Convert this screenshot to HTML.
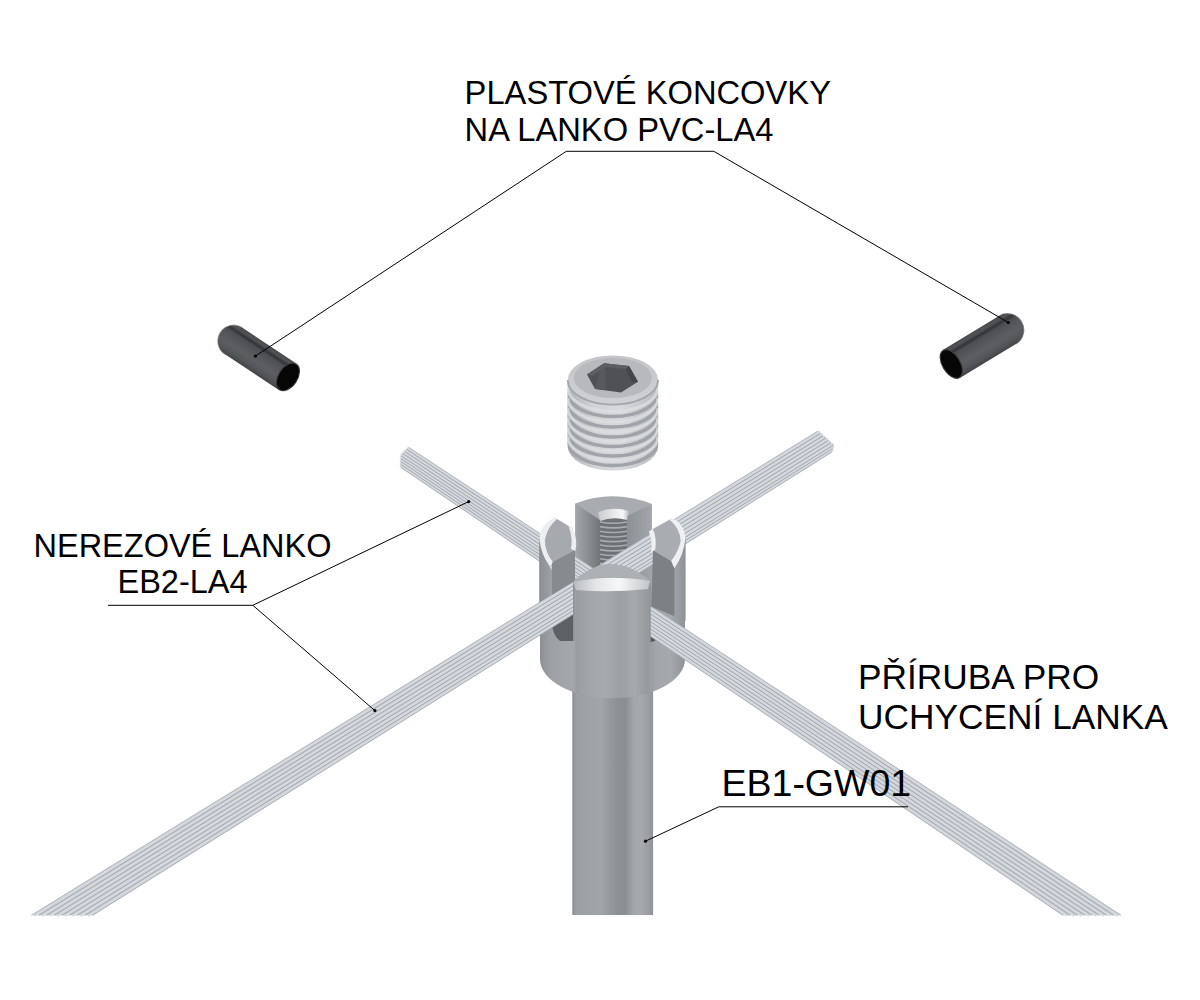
<!DOCTYPE html>
<html><head><meta charset="utf-8"><style>
html,body{margin:0;padding:0;background:#fff;}
body{width:1200px;height:1000px;overflow:hidden;position:relative;}
svg{position:absolute;left:0;top:0;}
text{font-family:"Liberation Sans",sans-serif;fill:#000;}
</style></head><body>
<svg width="1200" height="1000" viewBox="0 0 1200 1000">
<defs>
<linearGradient id="postg" gradientUnits="userSpaceOnUse" x1="572.3" x2="653.1" y1="0" y2="0">
<stop offset="0" stop-color="#8a8e94"/><stop offset="0.05" stop-color="#9ca0a5"/>
<stop offset="0.3" stop-color="#a0a4a9"/><stop offset="0.36" stop-color="#a2a6ab"/>
<stop offset="0.45" stop-color="#979ba0"/><stop offset="0.55" stop-color="#8d9196"/>
<stop offset="0.66" stop-color="#8b8f94"/><stop offset="0.76" stop-color="#a3a7ac"/>
<stop offset="0.85" stop-color="#a6aaaf"/><stop offset="0.93" stop-color="#9ca0a5"/>
<stop offset="1" stop-color="#8f9398"/></linearGradient>
<linearGradient id="flg" gradientUnits="userSpaceOnUse" x1="540" x2="685" y1="0" y2="0">
<stop offset="0" stop-color="#8c9095"/><stop offset="0.07" stop-color="#9ca0a5"/>
<stop offset="0.2" stop-color="#a4a8ad"/><stop offset="0.235" stop-color="#a2a6ab"/>
<stop offset="0.25" stop-color="#999da2"/><stop offset="0.33" stop-color="#a1a5aa"/>
<stop offset="0.45" stop-color="#a7abb0"/><stop offset="0.55" stop-color="#9ca0a5"/>
<stop offset="0.65" stop-color="#a6aaaf"/><stop offset="0.74" stop-color="#969a9f"/>
<stop offset="0.8" stop-color="#a2a6ab"/><stop offset="0.9" stop-color="#a5a9ae"/>
<stop offset="1" stop-color="#8f9398"/></linearGradient>
<linearGradient id="ssg" x1="0" x2="1" y1="0" y2="0">
<stop offset="0" stop-color="#aeb1b5"/><stop offset="0.3" stop-color="#d2d4d7"/>
<stop offset="0.6" stop-color="#d6d8db"/><stop offset="1" stop-color="#b9bcc0"/>
</linearGradient>
<linearGradient id="btl" x1="0" x2="1" y1="0" y2="0"><stop offset="0" stop-color="#a3a6aa"/><stop offset="1" stop-color="#737679"/></linearGradient>
<linearGradient id="btr" x1="0" x2="1" y1="0" y2="0"><stop offset="0" stop-color="#8d9094"/><stop offset="1" stop-color="#a2a5a9"/></linearGradient>
<linearGradient id="ftg" x1="0" x2="1" y1="0" y2="0">
<stop offset="0" stop-color="#8f9398"/><stop offset="0.2" stop-color="#a2a6ab"/>
<stop offset="0.5" stop-color="#9ca0a5"/><stop offset="0.7" stop-color="#a5a9ae"/>
<stop offset="1" stop-color="#90949a"/></linearGradient>
<linearGradient id="bandg" x1="0" x2="1" y1="0" y2="0">
<stop offset="0" stop-color="#b9bcc0"/><stop offset="0.3" stop-color="#e4e6e8"/>
<stop offset="0.6" stop-color="#f6f7f8"/><stop offset="1" stop-color="#c2c5c8"/></linearGradient>
<linearGradient id="sstop" x1="0" x2="0" y1="0" y2="1"><stop offset="0" stop-color="#c3c5c8"/><stop offset="1" stop-color="#cfd1d4"/></linearGradient>
<linearGradient id="hcg" x1="0" x2="1" y1="0" y2="0"><stop offset="0" stop-color="#c9cbce"/><stop offset="0.5" stop-color="#e6e8ea"/><stop offset="0.8" stop-color="#f7f8f9"/><stop offset="1" stop-color="#b5b8bb"/></linearGradient>
<clipPath id="ssclip"><path d="M567.7,380 L658.1,380 L658.1,446 A45.2,24.6 0 0 1 567.7,446 Z"/></clipPath>
</defs>
<rect width="1200" height="1000" fill="#fff"/>

<rect x="572.3" y="660" width="80.8" height="255" fill="url(#postg)"/>
<path d="M540,545 L540,659 A72.5,39.3 0 0 0 685,659 L685,545 Z" fill="url(#flg)"/>
<path d="M552,600 L573,600 L573,641 L560,641 Q552,635 552,622 Z" fill="#5d6064"/>
<path d="M648,605 L660,612 L660,635 Q657,642 650,642 L648,642 Z" fill="#55585c"/>
<path d="M575.3,503.5 Q613,489 651.8,504 L651.8,600 L575.3,600 Z" fill="#a8abaf"/>
<polygon points="575.3,503.5 600,520 600,600 575.3,600" fill="url(#btl)"/>
<polygon points="651.8,504 627,516 627,600 651.8,600" fill="url(#btr)"/>
<rect x="600" y="516" width="27" height="84" fill="#6d7074"/>
<path d="M600,522.0 Q613,524.5 627,522.0" fill="none" stroke="#a9acb0" stroke-width="1.6"/>
<path d="M600,526.6 Q613,529.1 627,526.6" fill="none" stroke="#a9acb0" stroke-width="1.6"/>
<path d="M600,531.2 Q613,533.7 627,531.2" fill="none" stroke="#a9acb0" stroke-width="1.6"/>
<path d="M600,535.8 Q613,538.3 627,535.8" fill="none" stroke="#a9acb0" stroke-width="1.6"/>
<path d="M600,540.4 Q613,542.9 627,540.4" fill="none" stroke="#a9acb0" stroke-width="1.6"/>
<path d="M600,545.0 Q613,547.5 627,545.0" fill="none" stroke="#a9acb0" stroke-width="1.6"/>
<path d="M600,549.6 Q613,552.1 627,549.6" fill="none" stroke="#a9acb0" stroke-width="1.6"/>
<path d="M600,554.2 Q613,556.7 627,554.2" fill="none" stroke="#a9acb0" stroke-width="1.6"/>
<path d="M600,558.8 Q613,561.3 627,558.8" fill="none" stroke="#a9acb0" stroke-width="1.6"/>
<path d="M600,563.4 Q613,565.9 627,563.4" fill="none" stroke="#a9acb0" stroke-width="1.6"/>
<path d="M600,568.0 Q613,570.5 627,568.0" fill="none" stroke="#a9acb0" stroke-width="1.6"/>
<path d="M598,512 Q613,506 629,511 L627,520 Q613,516 600,521 Z" fill="url(#hcg)"/>
<polygon points="408.7,447.3 1121.0,915.3 1063.0,915.3 400.7,467.3 401.0,455.0" fill="#c6cbd1"/>
<path d="M407.7,448.3 L1117.4,915.3" stroke="#d5d9de" stroke-width="2.12" stroke-linecap="round"/>
<path d="M405.6,450.4 L1110.1,915.3" stroke="#d5d9de" stroke-width="2.12" stroke-linecap="round"/>
<path d="M403.6,452.4 L1102.9,915.3" stroke="#d5d9de" stroke-width="2.12" stroke-linecap="round"/>
<path d="M401.5,454.5 L1095.6,915.3" stroke="#d5d9de" stroke-width="2.12" stroke-linecap="round"/>
<path d="M400.9,457.2 L1088.4,915.3" stroke="#d5d9de" stroke-width="2.12" stroke-linecap="round"/>
<path d="M400.9,460.1 L1081.1,915.3" stroke="#d5d9de" stroke-width="2.12" stroke-linecap="round"/>
<path d="M400.8,463.0 L1073.9,915.3" stroke="#d5d9de" stroke-width="2.12" stroke-linecap="round"/>
<path d="M400.7,465.9 L1066.6,915.3" stroke="#d5d9de" stroke-width="2.12" stroke-linecap="round"/>
<line x1="406.6" y1="449.4" x2="1113.8" y2="915.3" stroke="#a0a6ae" stroke-width="0.9"/>
<line x1="404.6" y1="451.4" x2="1106.5" y2="915.3" stroke="#a0a6ae" stroke-width="0.9"/>
<line x1="402.6" y1="453.4" x2="1099.2" y2="915.3" stroke="#a0a6ae" stroke-width="0.9"/>
<line x1="401.0" y1="455.7" x2="1092.0" y2="915.3" stroke="#a0a6ae" stroke-width="0.9"/>
<line x1="400.9" y1="458.6" x2="1084.8" y2="915.3" stroke="#a0a6ae" stroke-width="0.9"/>
<line x1="400.8" y1="461.5" x2="1077.5" y2="915.3" stroke="#a0a6ae" stroke-width="0.9"/>
<line x1="400.8" y1="464.4" x2="1070.2" y2="915.3" stroke="#a0a6ae" stroke-width="0.9"/>
<line x1="408.7" y1="447.3" x2="1121.0" y2="915.3" stroke="#b3b8be" stroke-width="1"/>
<line x1="400.7" y1="467.3" x2="1063.0" y2="915.3" stroke="#aab0b6" stroke-width="1"/>
<polygon points="818.0,431.0 31.3,915.3 92.7,915.3 832.0,452.0 833.5,445.0" fill="#c6cbd1"/>
<path d="M819.3,432.2 L35.1,915.3" stroke="#d5d9de" stroke-width="2.32" stroke-linecap="round"/>
<path d="M821.9,434.5 L42.8,915.3" stroke="#d5d9de" stroke-width="2.32" stroke-linecap="round"/>
<path d="M824.5,436.9 L50.5,915.3" stroke="#d5d9de" stroke-width="2.32" stroke-linecap="round"/>
<path d="M827.1,439.2 L58.2,915.3" stroke="#d5d9de" stroke-width="2.32" stroke-linecap="round"/>
<path d="M829.7,441.6 L65.8,915.3" stroke="#d5d9de" stroke-width="2.32" stroke-linecap="round"/>
<path d="M832.3,443.9 L73.5,915.3" stroke="#d5d9de" stroke-width="2.32" stroke-linecap="round"/>
<path d="M833.1,446.9 L81.2,915.3" stroke="#d5d9de" stroke-width="2.32" stroke-linecap="round"/>
<path d="M832.4,450.3 L88.9,915.3" stroke="#d5d9de" stroke-width="2.32" stroke-linecap="round"/>
<line x1="820.6" y1="433.3" x2="39.0" y2="915.3" stroke="#a0a6ae" stroke-width="0.9"/>
<line x1="823.2" y1="435.7" x2="46.6" y2="915.3" stroke="#a0a6ae" stroke-width="0.9"/>
<line x1="825.8" y1="438.0" x2="54.3" y2="915.3" stroke="#a0a6ae" stroke-width="0.9"/>
<line x1="828.4" y1="440.4" x2="62.0" y2="915.3" stroke="#a0a6ae" stroke-width="0.9"/>
<line x1="831.0" y1="442.7" x2="69.7" y2="915.3" stroke="#a0a6ae" stroke-width="0.9"/>
<line x1="833.5" y1="445.1" x2="77.4" y2="915.3" stroke="#a0a6ae" stroke-width="0.9"/>
<line x1="832.7" y1="448.6" x2="85.0" y2="915.3" stroke="#a0a6ae" stroke-width="0.9"/>
<line x1="818.0" y1="431.0" x2="31.3" y2="915.3" stroke="#b3b8be" stroke-width="1"/>
<line x1="832.0" y1="452.0" x2="92.7" y2="915.3" stroke="#aab0b6" stroke-width="1"/>
<clipPath id="clL"><polygon points="520,400 600,400 600,570 573,582 540,602 520,614"/></clipPath>
<g clip-path="url(#clL)">
<polygon points="539.2,536 550,566.6 553,640 539.2,640" fill="url(#flg)"/>
<polygon points="552,561 575,550 575,640 552,640" fill="#878a8e"/>
<path d="M554.8,517 Q541,524 539.2,538 Q541,555 550,566.6 L553,562 Q545,552 545,540 Q547,527 557,519 Z" fill="#eceef0"/>
<path d="M557,519 Q547,527 545,540 Q545,552 553,562 L575,550 L572.4,528.2 Z" fill="#a6a9ad"/>
<path d="M572.4,528.2 Q578,538 575.5,551 L571,549 Q573,538 568.5,526 Z" fill="#eceef0"/>
</g>
<clipPath id="clR"><polygon points="640,400 720,400 720,635 686,621 650,606 640,600"/></clipPath>
<g clip-path="url(#clR)">
<polygon points="685.6,536 685.6,650 674.4,650 674.4,568.2" fill="url(#flg)"/>
<polygon points="653,550 671.2,561 674.4,568.2 674.4,650 650,650" fill="#7d8084"/>
<path d="M672,518.2 L652.8,529 L653,550 L671.2,561 Q679,550 680.8,541 Q680,528 670,520 Z" fill="#a9acb0"/>
<path d="M672,518.2 Q683,522 685.6,537 Q684,555 674.4,568.2 L671.2,561 Q679,550 680.8,541 Q680,528 670,520 Z" fill="#eef0f2"/>
<path d="M652.8,529 Q657,538 655.2,549.8 L651,552 Q653,541 648.8,531.4 Z" fill="#eef0f2"/>
</g>
<clipPath id="clB"><path d="M540,545 L540,659 A72.5,39.3 0 0 0 685,659 L685,545 Z"/></clipPath>
<path d="M573.2,582 Q609,547 650.4,581 L650.4,710 L573.2,710 Z" fill="url(#flg)" clip-path="url(#clB)"/>
<line x1="573.7" y1="582" x2="574" y2="641" stroke="#8d9196" stroke-width="1.5"/>
<line x1="650" y1="581" x2="649.8" y2="641" stroke="#909499" stroke-width="1.5"/>
<path d="M573.2,582 Q609,547 650.4,581 L650,583 Q609,570 573.5,584 Z" fill="#adb0b4"/>
<path d="M573.5,582 Q609,574 650,581 L648,589 Q609,593 576,590 Z" fill="url(#bandg)"/>
<path d="M540,659 A72.5,39.3 0 0 0 685,659 L685,640 L540,640 Z" fill="url(#flg)" opacity="0.0"/>
<path d="M567.7,380 L658.1,380 L658.1,446 A45.2,24.6 0 0 1 567.7,446 Z" fill="url(#ssg)"/>
<g clip-path="url(#ssclip)">
<path d="M567.7,392.5 A45.2,24 0 0 0 658.1,392.5" fill="none" stroke="#a0a3a7" stroke-width="3.6"/>
<path d="M567.7,387.5 A45.2,24 0 0 0 658.1,387.5" fill="none" stroke="#dcdee0" stroke-width="3" opacity="0.8"/>
<path d="M567.7,403 A45.2,24 0 0 0 658.1,403" fill="none" stroke="#a0a3a7" stroke-width="3.6"/>
<path d="M567.7,398 A45.2,24 0 0 0 658.1,398" fill="none" stroke="#dcdee0" stroke-width="3" opacity="0.8"/>
<path d="M567.7,413 A45.2,24 0 0 0 658.1,413" fill="none" stroke="#a0a3a7" stroke-width="3.6"/>
<path d="M567.7,408 A45.2,24 0 0 0 658.1,408" fill="none" stroke="#dcdee0" stroke-width="3" opacity="0.8"/>
<path d="M567.7,422.5 A45.2,24 0 0 0 658.1,422.5" fill="none" stroke="#a0a3a7" stroke-width="3.6"/>
<path d="M567.7,417.5 A45.2,24 0 0 0 658.1,417.5" fill="none" stroke="#dcdee0" stroke-width="3" opacity="0.8"/>
<path d="M567.7,432 A45.2,24 0 0 0 658.1,432" fill="none" stroke="#a0a3a7" stroke-width="3.6"/>
<path d="M567.7,427 A45.2,24 0 0 0 658.1,427" fill="none" stroke="#dcdee0" stroke-width="3" opacity="0.8"/>
<path d="M567.7,441.5 A45.2,24 0 0 0 658.1,441.5" fill="none" stroke="#a0a3a7" stroke-width="3.6"/>
<path d="M567.7,436.5 A45.2,24 0 0 0 658.1,436.5" fill="none" stroke="#dcdee0" stroke-width="3" opacity="0.8"/>
</g>
<ellipse cx="612.9" cy="380" rx="45.2" ry="24.6" fill="url(#sstop)"/>
<path d="M567.7,380 A45.2,24.6 0 0 0 658.1,380" fill="none" stroke="#a4a7ab" stroke-width="1.8"/>
<ellipse cx="612.9" cy="378" rx="39" ry="20" fill="#b7b9bc"/>
<polygon points="604,363.3 629,366 638,381.7 621,392.5 595,389 587,374.6" fill="#505154"/>
<polygon points="604,363.3 629,366 626,369 605,367 600,371 592,376 587,374.6" fill="#5d5e61"/>
<polygon points="600,371 605,367 606,390 595,389" fill="#58595c"/>
<polygon points="629,366 638,381.7 632,382 626,369" fill="#444548"/>
<defs><linearGradient id="capgl" gradientUnits="userSpaceOnUse" x1="0" y1="-15.8" x2="0" y2="15.8"><stop offset="0" stop-color="#48494c"/><stop offset="0.1" stop-color="#525356"/><stop offset="0.2" stop-color="#333436"/><stop offset="0.28" stop-color="#4d4e51"/><stop offset="0.45" stop-color="#565759"/><stop offset="0.65" stop-color="#5d5e61"/><stop offset="0.85" stop-color="#545558"/><stop offset="1" stop-color="#434447"/></linearGradient></defs><g transform="translate(233.7,341.0) rotate(33.54)"><path d="M0,-15.8 L65.1,-15.8 L65.1,15.8 L0,15.8 A15.8,15.8 0 0 1 0,-15.8 Z" fill="url(#capgl)"/><path d="M0,-15.8 A15.8,15.8 0 0 0 0,15.8" fill="none" stroke="#66676a" stroke-width="1.2" opacity="0.6"/><ellipse cx="65.1" cy="0" rx="10" ry="15.8" fill="#3a3b3d"/><ellipse cx="65.1" cy="0" rx="9" ry="14.600000000000001" fill="#060606"/></g>
<defs><linearGradient id="capgr" gradientUnits="userSpaceOnUse" x1="0" y1="-16.4" x2="0" y2="16.4"><stop offset="0" stop-color="#434447"/><stop offset="0.15000000000000002" stop-color="#545558"/><stop offset="0.35" stop-color="#5d5e61"/><stop offset="0.55" stop-color="#565759"/><stop offset="0.72" stop-color="#4d4e51"/><stop offset="0.8" stop-color="#333436"/><stop offset="0.9" stop-color="#525356"/><stop offset="1" stop-color="#48494c"/></linearGradient></defs><g transform="translate(1007.4,330.0) rotate(148.80)"><path d="M0,-16.4 L65.6,-16.4 L65.6,16.4 L0,16.4 A16.4,16.4 0 0 1 0,-16.4 Z" fill="url(#capgr)"/><path d="M0,-16.4 A16.4,16.4 0 0 0 0,16.4" fill="none" stroke="#66676a" stroke-width="1.2" opacity="0.6"/><ellipse cx="65.6" cy="0" rx="9.4" ry="16.4" fill="#3a3b3d"/><ellipse cx="65.6" cy="0" rx="8.4" ry="15.2" fill="#060606"/></g>
<polyline points="255.4,356.1 566.3,151.3 713.8,151.3 1008.3,322.5" fill="none" stroke="#000" stroke-width="1"/>
<polyline points="468.7,501.6 252.8,605.3 108,605.3" fill="none" stroke="#000" stroke-width="1"/>
<line x1="252.8" y1="605.3" x2="374.9" y2="710.6" stroke="#000" stroke-width="1"/>
<polyline points="645.5,841.2 718.8,806.8 908,806.8" fill="none" stroke="#000" stroke-width="1"/>
<circle cx="255.4" cy="356.1" r="1.6" fill="#000"/>
<circle cx="1008.3" cy="322.5" r="1.6" fill="#000"/>
<circle cx="468.7" cy="501.6" r="1.6" fill="#000"/>
<circle cx="374.9" cy="710.6" r="1.6" fill="#000"/>
<circle cx="645.5" cy="841.2" r="1.6" fill="#000"/>
<text x="464.6" y="103.9" font-size="32.7">PLASTOVÉ KONCOVKY</text>
<text x="464.6" y="140.8" font-size="32.7">NA LANKO PVC-LA4</text>
<text x="182.5" y="556.5" font-size="32.5" text-anchor="middle">NEREZOVÉ LANKO</text>
<text x="182.5" y="592.5" font-size="32.5" text-anchor="middle">EB2-LA4</text>
<text x="858" y="689.2" font-size="35.3">PŘÍRUBA PRO</text>
<text x="858" y="728.7" font-size="35.3">UCHYCENÍ LANKA</text>
<text x="721.5" y="795.8" font-size="37.5">EB1-GW01</text>
</svg></body></html>
